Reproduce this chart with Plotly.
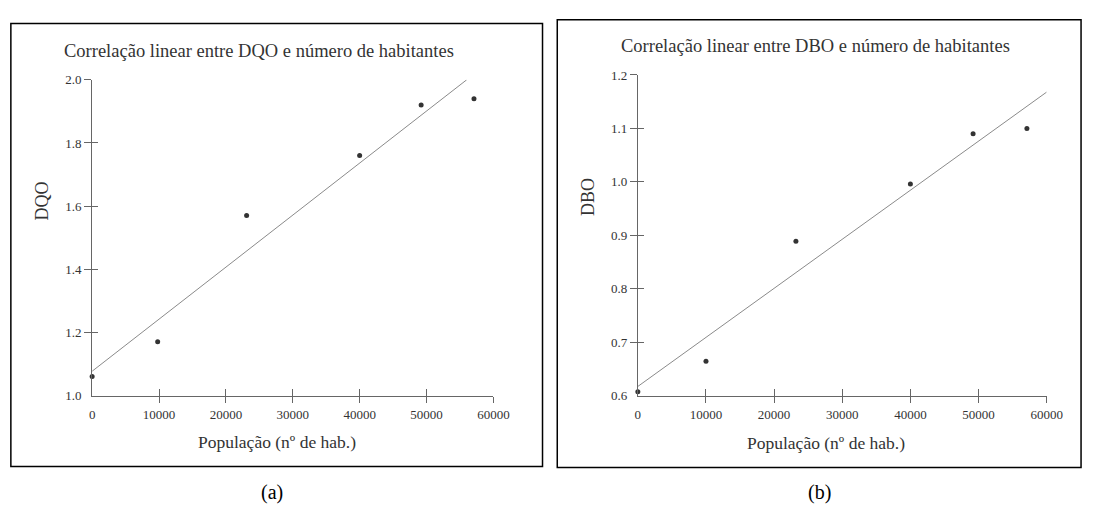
import plotly.graph_objects as go

# ---------------- data ----------------
pop_a = [0, 9800, 23100, 40000, 49200, 57100]
dqo = [1.06, 1.17, 1.57, 1.76, 1.92, 1.94]
trend_a_x = [0, 56000]
trend_a_y = [1.077, 2.0]

pop_b = [0, 10000, 23200, 40000, 49200, 57100]
dbo = [0.607, 0.664, 0.889, 0.996, 1.09, 1.10]
trend_b_x = [0, 60000]
trend_b_y = [0.617, 1.168]

x_ticks = [0, 10000, 20000, 30000, 40000, 50000, 60000]
x_ticklabels = ["0", "10000", "20000", "30000", "40000", "50000", "60000"]
y_ticks_a = [1.0, 1.2, 1.4, 1.6, 1.8, 2.0]
y_ticks_b = [0.6, 0.7, 0.8, 0.9, 1.0, 1.1, 1.2]

title_a = "Correlação linear entre DQO e número de habitantes"
title_b = "Correlação linear entre DBO e número de habitantes"
xlabel = "População (nº de hab.)"
ylabel_a = "DQO"
ylabel_b = "DBO"

# ---------------- layout helpers ----------------
W, H = 1100, 523
FONT = "Liberation Serif, Times New Roman, serif"
TXT = "#333333"
AX = "#666666"


def px(x):
    return x / W


def py(y):
    return 1 - y / H


dom_ax = [px(90.7), px(499)]
dom_ay = [py(400), py(75)]
dom_bx = [px(646), px(1062)]
dom_by = [py(400), py(70)]

fig = go.Figure()

fig.add_trace(go.Scatter(x=trend_a_x, y=trend_a_y, mode="lines",
                         line=dict(color="#8a8a8a", width=1),
                         xaxis="x", yaxis="y", showlegend=False, hoverinfo="skip"))
fig.add_trace(go.Scatter(x=pop_a, y=dqo, mode="markers",
                         marker=dict(color="#333333", size=5),
                         cliponaxis=False,
                         xaxis="x", yaxis="y", showlegend=False))
fig.add_trace(go.Scatter(x=trend_b_x, y=trend_b_y, mode="lines",
                         line=dict(color="#8a8a8a", width=1),
                         xaxis="x2", yaxis="y2", showlegend=False, hoverinfo="skip"))
fig.add_trace(go.Scatter(x=pop_b, y=dbo, mode="markers",
                         marker=dict(color="#333333", size=5),
                         cliponaxis=False,
                         xaxis="x2", yaxis="y2", showlegend=False))

# empty traces binding the tick-only overlay axes (crossing tick marks)
for xa, ya in [("x3", "y3"), ("x4", "y4"), ("x5", "y5"), ("x6", "y6")]:
    fig.add_trace(go.Scatter(x=[], y=[], xaxis=xa, yaxis=ya, showlegend=False, hoverinfo="skip"))

common = dict(showgrid=False, zeroline=False, fixedrange=True)

xr = [0, 60000]
yra = [1.0, 2.0]
yrb = [0.6, 1.2]


def main_x(domain, anchor):
    return dict(domain=domain, anchor=anchor, range=xr, tickvals=x_ticks, ticktext=x_ticklabels,
                ticks="outside", ticklen=7, tickcolor="rgba(0,0,0,0)",
                showline=True, linecolor=AX, linewidth=1,
                tickfont=dict(family=FONT, size=13, color=TXT), **common)


def main_y(domain, anchor, rng, vals):
    return dict(domain=domain, anchor=anchor, range=rng, tickvals=vals,
                ticktext=[f"{v:.1f}" for v in vals],
                ticks="outside", ticklen=7, tickcolor="rgba(0,0,0,0)",
                showline=True, linecolor=AX, linewidth=1,
                tickfont=dict(family=FONT, size=13, color=TXT), **common)


def tick_x(domain, anchor, over, side_ticks, ln):
    return dict(domain=domain, anchor=anchor, overlaying=over, range=xr, tickvals=x_ticks[1:],
                ticks=side_ticks, ticklen=ln, tickcolor=AX, tickwidth=1,
                showticklabels=False, showline=False, **common)


def tick_y(domain, anchor, over, rng, vals, side_ticks, ln):
    return dict(domain=domain, anchor=anchor, overlaying=over, range=rng, tickvals=vals[1:],
                ticks=side_ticks, ticklen=ln, tickcolor=AX, tickwidth=1,
                showticklabels=False, showline=False, **common)


fig.update_layout(
    width=W, height=H,
    margin=dict(l=0, r=0, t=0, b=0),
    paper_bgcolor="white", plot_bgcolor="rgba(0,0,0,0)",
    showlegend=False,
    xaxis=main_x(dom_ax, "y"),
    yaxis=main_y(dom_ay, "x", yra, y_ticks_a),
    xaxis2=main_x(dom_bx, "y2"),
    yaxis2=main_y(dom_by, "x2", yrb, y_ticks_b),
    xaxis3=tick_x(dom_ax, "y", "x", "outside", 6),
    yaxis3=tick_y(dom_ay, "x", "y", yra, y_ticks_a, "outside", 7),
    xaxis4=tick_x(dom_ax, "y", "x", "inside", 7),
    yaxis4=tick_y(dom_ay, "x", "y", yra, y_ticks_a, "inside", 6),
    xaxis5=tick_x(dom_bx, "y2", "x2", "outside", 6),
    yaxis5=tick_y(dom_by, "x2", "y2", yrb, y_ticks_b, "outside", 7),
    xaxis6=tick_x(dom_bx, "y2", "x2", "inside", 7),
    yaxis6=tick_y(dom_by, "x2", "y2", yrb, y_ticks_b, "inside", 6),
)

# panel frames
fig.add_shape(type="rect", xref="paper", yref="paper",
              x0=px(8), x1=px(549), y0=py(473), y1=py(17),
              line=dict(color="black", width=1.5), fillcolor="rgba(0,0,0,0)", layer="below")
fig.add_shape(type="rect", xref="paper", yref="paper",
              x0=px(564), x1=px(1097), y0=py(474), y1=py(13),
              line=dict(color="black", width=1.5), fillcolor="rgba(0,0,0,0)", layer="below")


def ann(text, x, y, size, angle=0, color=TXT):
    fig.add_annotation(text=text, xref="paper", yref="paper", x=px(x), y=py(y),
                       xanchor="center", yanchor="middle", showarrow=False, textangle=angle,
                       font=dict(family=FONT, size=size, color=color))


ann(title_a, 261, 45, 18.5)
ann(title_b, 827, 40, 18.5)
ann(ylabel_a, 40, 200, 18, -90)
ann(ylabel_b, 596, 196, 18, -90)
ann(xlabel, 279, 448, 17.5)
ann(xlabel, 837, 449, 17.5)
ann("(a)", 274, 500, 20, color="black")
ann("(b)", 831, 500, 20, color="black")

fig.write_html("out.html", config={"displayModeBar": False},
               post_script="document.body.style.margin='0';document.body.style.overflow='hidden';")
